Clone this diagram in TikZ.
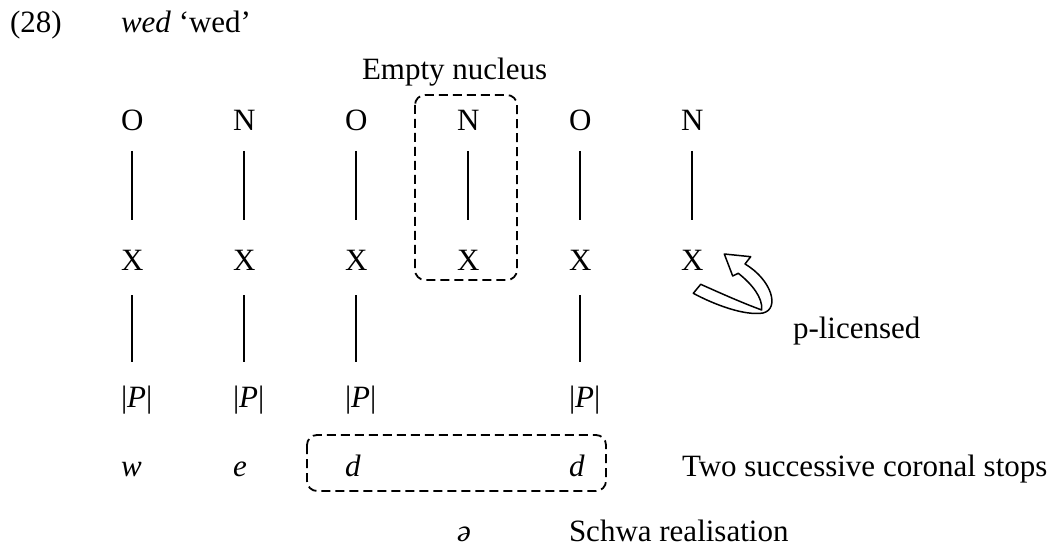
\documentclass[tikz,border=0pt]{standalone}
\usepackage{fontspec}
\setmainfont{Liberation Serif}
\begin{document}
\begin{tikzpicture}[x=1pt,y=-1pt,
  every node/.style={inner sep=0pt, outer sep=0pt, anchor=base west, font=\fontsize{31}{37}\selectfont},
  tier/.style={line width=2pt},
  dbox/.style={line width=1.8pt, dash pattern=on 9pt off 5pt, rounded corners=10pt},
  hollow/.style={line width=1.5pt, fill=white, line join=round}]
\useasboundingbox (0,0) rectangle (1055,548);
% header
\node (num) at (10,33) {(28)};
\node (title) at (121,33) {\textit{wed} ‘wed’};
\node (empty) at (362,80) {Empty nucleus};
% constituents
\node (o1) at (121,131) {O};
\node (n1) at (233,131) {N};
\node (o2) at (345,131) {O};
\node (n2) at (457,131) {N};
\node (o3) at (569,131) {O};
\node (n3) at (681,131) {N};
% skeleton
\node (x1) at (121,270) {X};
\node (x2) at (233,270) {X};
\node (x3) at (345,270) {X};
\node (x4) at (457,270) {X};
\node (x5) at (569,270) {X};
\node (x6) at (681,270) {X};
% elements
\node (p1) at (121,407) {\textbar\textit{P}\textbar};
\node (p2) at (233,407) {\textbar\textit{P}\textbar};
\node (p3) at (345,407) {\textbar\textit{P}\textbar};
\node (p5) at (569,407) {\textbar\textit{P}\textbar};
% segments
\node (s1) at (121,476) {\textit{w}};
\node (s2) at (233,476) {\textit{e}};
\node (s3) at (345,476) {\textit{d}};
\node (s5) at (569,476) {\textit{d}};
\node (two) at (682,476) {Two successive coronal stops};
\node (schwa) at (457,541) {\textit{ə}};
\node (schwalab) at (569,541) {Schwa realisation};
\node (plic) at (793,338) {p-licensed};
% association lines
\foreach \a/\b in {o1/x1,n1/x2,o2/x3,n2/x4,o3/x5,n3/x6}
  \draw[tier, shorten <=20pt, shorten >=50pt] (\a.base) -- (\b.base);
\foreach \a/\b in {x1/p1,x2/p2,x3/p3,x5/p5}
  \draw[tier, shorten <=25pt, shorten >=45pt] (\a.base) -- (\a.base |- \b.base);
% dashed boxes
\draw[dbox] (415,95) rectangle (517,280);
\draw[dbox] (307,435) rectangle (606,491);
% hollow curved arrow (p-licensing)
\draw[hollow] (700.7,284.3) -- (693.3,293.3)
  .. controls (715,305) and (745,316) .. (763,313)
  .. controls (780,309) and (772,280) .. (745,264)
  -- (750.7,256.7) -- (724.3,254) -- (732.7,276) -- (738.3,273.3)
  .. controls (752,284) and (763,298) .. (761.7,310)
  .. controls (740,302) and (718,292) .. cycle;
\end{tikzpicture}
\end{document}
